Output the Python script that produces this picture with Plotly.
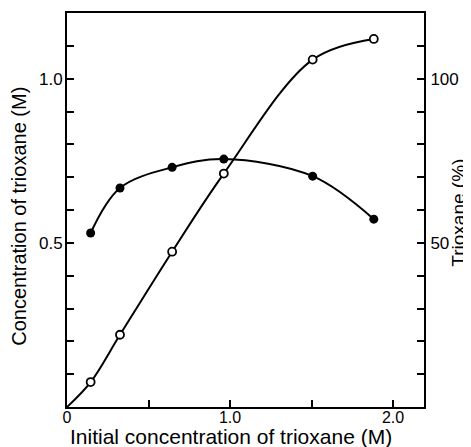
import plotly.graph_objects as go

# Initial concentration of trioxane (M)
init_conc = [0.145, 0.325, 0.645, 0.962, 1.507, 1.882]
# Concentration of trioxane (M) -- open circles
conc_M = [0.076, 0.220, 0.473, 0.711, 1.058, 1.121]
# Trioxane (%) -- filled circles
trioxane_pct = [53.0, 66.7, 73.0, 75.5, 70.3, 57.2]

# curve for open circles starts from origin
curve_open_x = [0.0] + init_conc
curve_open_y = [0.0] + conc_M

x_tickvals = [0, 0.5, 1.0, 1.5, 2.0]
x_ticktext = ["0", "", "1.0", "", "2.0"]
y_tickvals = [0.1, 0.2, 0.3, 0.4, 0.5, 0.6, 0.7, 0.8, 0.9, 1.0, 1.1]
y_ticktext = ["", "", "", "", "0.5", "", "", "", "", "1.0", ""]
y2_tickvals = [10, 20, 30, 40, 50, 60, 70, 80, 90, 100, 110]
y2_ticktext = ["", "", "", "", "50", "", "", "", "", "100", ""]

FONT = "Liberation Sans"
fig = go.Figure()

fig.add_trace(go.Scatter(
    x=curve_open_x, y=curve_open_y, mode="lines",
    line=dict(color="black", width=2, shape="spline", smoothing=1.0),
    showlegend=False, hoverinfo="skip"))
fig.add_trace(go.Scatter(
    x=init_conc, y=conc_M, mode="markers",
    marker=dict(symbol="circle", size=8, color="white",
                line=dict(color="black", width=1.8)),
    showlegend=False, name="Concentration (M)"))
fig.add_trace(go.Scatter(
    x=init_conc, y=trioxane_pct, mode="lines+markers", yaxis="y2",
    line=dict(color="black", width=2, shape="spline", smoothing=1.0),
    marker=dict(symbol="circle", size=9, color="black"),
    showlegend=False, name="Trioxane (%)"))

axis_common = dict(showgrid=False, zeroline=False, showline=True,
                   linecolor="black", linewidth=2, ticks="inside",
                   ticklen=7, tickwidth=1.6, tickcolor="black",
                   automargin=False)
tick_font = dict(family=FONT, size=17, color="black")

# the page body adds an 8px offset, margins compensate for it
fig.update_layout(
    width=471, height=447,
    margin=dict(l=59, r=55, t=5, b=48),
    paper_bgcolor="white", plot_bgcolor="white",
    font=dict(family=FONT, color="black"),
    xaxis=dict(range=[0, 2.19], tickmode="array", tickvals=x_tickvals,
               ticktext=x_ticktext, mirror=True, ticklabelstandoff=-5,
               tickfont=dict(family=FONT, size=16, color="black"),
               **axis_common),
    yaxis=dict(range=[0, 1.2], tickmode="array", tickvals=y_tickvals,
               ticktext=y_ticktext, ticklabelstandoff=-1,
               tickfont=tick_font, **axis_common),
    yaxis2=dict(range=[0, 120], tickmode="array", tickvals=y2_tickvals,
                ticktext=y2_ticktext, overlaying="y", side="right",
                ticklabelstandoff=1, tickfont=tick_font, **axis_common),
    annotations=[
        dict(text="Initial concentration of trioxane (M)",
             xref="paper", yref="paper", x=0.458, y=-0.075,
             xanchor="center", yanchor="middle", showarrow=False,
             font=dict(family=FONT, size=21, color="black")),
        dict(text="Concentration of trioxane (M)", textangle=-90,
             xref="paper", yref="paper", x=-0.135, y=0.485,
             xanchor="center", yanchor="middle", showarrow=False,
             font=dict(family=FONT, size=20, color="black")),
        dict(text="Trioxane (%)", textangle=-90,
             xref="paper", yref="paper", x=1.1317, y=0.492,
             xanchor="right", yanchor="middle", showarrow=False,
             font=dict(family=FONT, size=19, color="black")),
    ],
)

fig.write_html("out.html")
